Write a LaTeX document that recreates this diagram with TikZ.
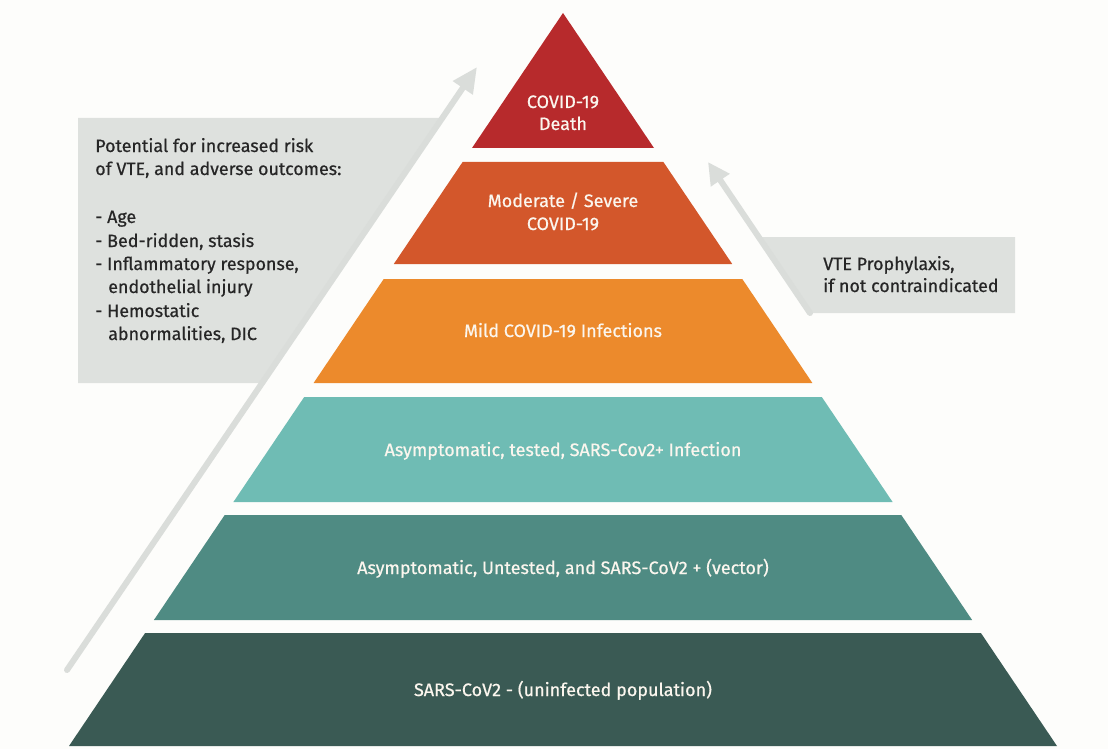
\documentclass[tikz,border=0pt]{standalone}
\usepackage{fontspec}
\setmainfont{Fira Sans}
\newfontfamily\medfont{Fira Sans}[FakeBold=0.6]
\usetikzlibrary{arrows.meta}
\definecolor{bg}{HTML}{FDFDFB}
\definecolor{cA}{HTML}{B72A2C}
\definecolor{cB}{HTML}{D3572B}
\definecolor{cC}{HTML}{EC8A2C}
\definecolor{cD}{HTML}{6FBCB4}
\definecolor{cE}{HTML}{4F8B83}
\definecolor{cF}{HTML}{3A5A54}
\definecolor{boxgrey}{HTML}{DEE1DE}
\definecolor{shaftgrey}{HTML}{DADDDA}
\definecolor{txtdark}{HTML}{262626}
\definecolor{txtlight}{HTML}{FBF6EE}
\begin{document}
\begin{tikzpicture}[x=0.75pt,y=-0.75pt,
  wlabel/.style={text=txtlight, font=\medfont\fontsize{13.5}{16}\selectfont, inner sep=0pt, anchor=base},
  dlabel/.style={text=txtdark, font=\medfont\fontsize{13.4}{16}\selectfont, inner sep=0pt, anchor=base west},
  greybox/.style={fill=boxgrey},
  shaft/.style={draw=shaftgrey, line width=4.5pt, line cap=round}]
\useasboundingbox (0,0) rectangle (1108,749);
\fill[bg] (0,0) rectangle (1108,749);

% grey boxes
\fill[greybox] (78,118) -- (442,118) -- (262,383) -- (78,383) -- cycle;
\fill[greybox] (759,237) -- (1015,237) -- (1015,313) -- (810,313) -- cycle;

% arrows
\coordinate (ltail) at (67,670);
\coordinate (ltip) at (477,67);
\draw[shaft, -{Triangle[length=19pt,width=17pt]}] (ltail) -- (ltip);
\coordinate (rtail) at (810,313);
\coordinate (rtip) at (708,162);
\draw[shaft, -{Triangle[length=16.5pt,width=16pt]}] (rtail) -- (rtip);

% pyramid levels
\fill[cA] (563,13) -- (654,148) -- (472,148) -- cycle;
\fill[cB] (462.6,162) -- (663.4,162) -- (732.2,264) -- (393.8,264) -- cycle;
\fill[cC] (383.7,279) -- (742.3,279) -- (812.4,383) -- (313.6,383) -- cycle;
\fill[cD] (304.2,397) -- (821.8,397) -- (892.6,502) -- (233.4,502) -- cycle;
\fill[cE] (224.7,515) -- (901.3,515) -- (972.1,620) -- (153.9,620) -- cycle;
\fill[cF] (145.1,633) -- (980.9,633) -- (1057,746) -- (69,746) -- cycle;

% pyramid labels
\node[wlabel] (l1a) at (563,108) {COVID-19};
\node[wlabel] (l1b) at (563,130) {Death};
\node[wlabel] (l2a) at (563,207) {Moderate / Severe};
\node[wlabel] (l2b) at (563,230) {COVID-19};
\node[wlabel] (l3) at (563,337) {Mild COVID-19 Infections};
\node[wlabel] (l4) at (563,456) {Asymptomatic, tested, SARS-Cov2+ Infection};
\node[wlabel] (l5) at (563,574) {Asymptomatic, Untested, and SARS-CoV2 + (vector)};
\node[wlabel] (l6) at (563,696) {SARS-CoV2 - (uninfected population)};

% left box text
\node[dlabel] (t1) at (95,152) {Potential for increased risk};
\node[dlabel] (t2) at (95,175) {of VTE, and adverse outcomes:};
\node[dlabel] (t3) at (95,223) {- Age};
\node[dlabel] (t4) at (95,247) {- Bed-ridden, stasis};
\node[dlabel] (t5) at (95,270) {- Inflammatory response,};
\node[dlabel] (t6) at (108,293) {endothelial injury};
\node[dlabel] (t7) at (95,317) {- Hemostatic};
\node[dlabel] (t8) at (108,340) {abnormalities, DIC};

% right box text
\node[dlabel] (r1) at (823,270) {VTE Prophylaxis,};
\node[dlabel] (r2) at (823,292) {if not contraindicated};
\end{tikzpicture}
\end{document}
